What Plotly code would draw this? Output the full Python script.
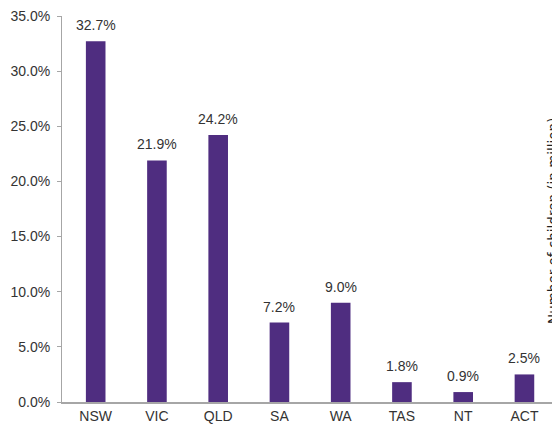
import plotly.graph_objects as go

states = ["NSW", "VIC", "QLD", "SA", "WA", "TAS", "NT", "ACT"]
shares = [32.7, 21.9, 24.2, 7.2, 9.0, 1.8, 0.9, 2.5]
y_ticks = [0, 5, 10, 15, 20, 25, 30, 35]
y_tick_labels = [f"{v:.1f}%" for v in y_ticks]
bar_labels = [f"{v:.1f}%" for v in shares]

fig = go.Figure()
fig.add_trace(go.Bar(
    x=states, y=shares,
    marker=dict(color="#4F2D80", line=dict(width=0)),
    cliponaxis=False,
))

value_labels = [
    dict(
        x=s, y=v, text=t, xref="x", yref="y",
        xanchor="center", yanchor="bottom", yshift=6,
        showarrow=False,
        font=dict(family="Liberation Sans, Arial", size=14, color="#333333"),
    )
    for s, v, t in zip(states, shares, bar_labels)
]

side_title = dict(
    text="Number of children (in million)",
    xref="paper", yref="paper", x=1.0, y=0.469,
    xanchor="center", yanchor="middle", xshift=1,
    textangle=-90, showarrow=False,
    font=dict(family="DejaVu Sans", size=13.5, color="#222222"),
)

fig.update_layout(
    width=552, height=432,
    margin=dict(l=62, r=0, t=16, b=30),
    paper_bgcolor="white", plot_bgcolor="white",
    bargap=0.68,
    showlegend=False,
    font=dict(family="Liberation Sans, Arial", size=14, color="#333333"),
    xaxis=dict(
        range=[-0.55, 7.45],
        showline=True, linecolor="#A6A6A6", linewidth=2,
        ticks="", showgrid=False, tickfont=dict(size=14, color="#333333"),
    ),
    yaxis=dict(
        range=[0, 35], tickvals=y_ticks, ticktext=y_tick_labels,
        showline=True, linecolor="#A6A6A6", linewidth=1,
        ticks="outside", ticklen=4, tickcolor="#A6A6A6",
        ticklabelstandoff=4,
        showgrid=False, zeroline=False,
        tickfont=dict(size=14, color="#333333"),
    ),
    annotations=value_labels + [side_title],
)

fig.write_html(
    "out.html",
    config={"displayModeBar": False},
    post_script="document.body.style.margin='0';document.body.style.overflow='hidden';",
)
